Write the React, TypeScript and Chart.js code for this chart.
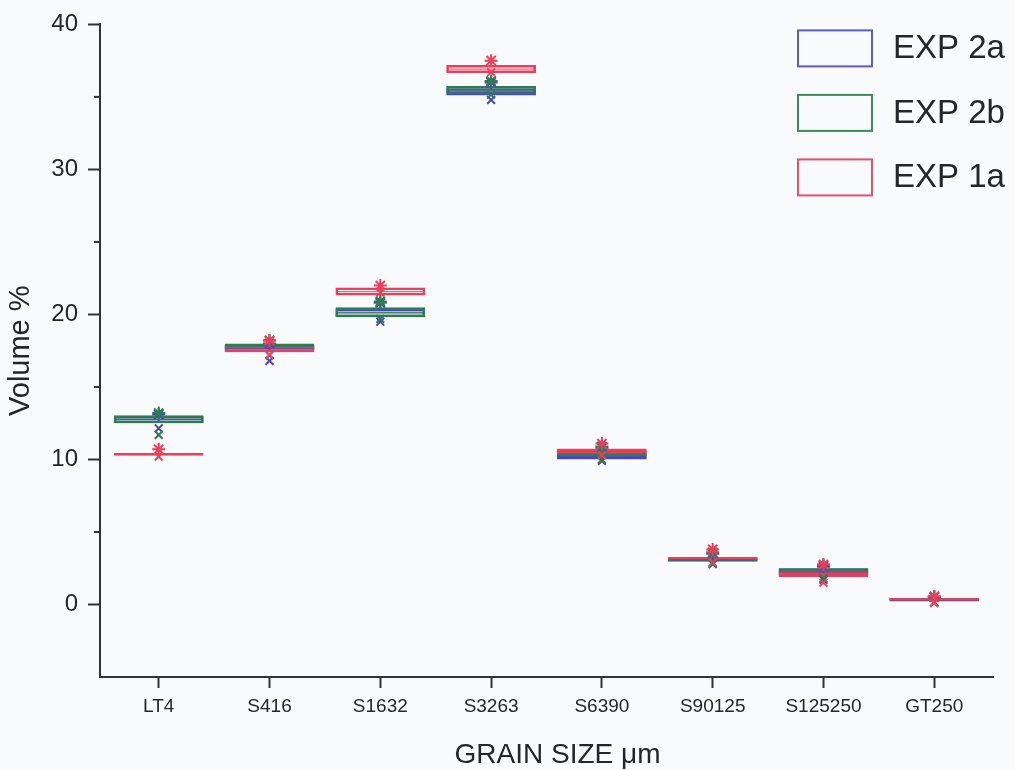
import React, { useEffect, useRef } from "react";
import { Chart, registerables } from "chart.js";

Chart.register(...registerables);

// Grain-size fractions along the x axis
const grainSizes = ["LT4", "S416", "S1632", "S3263", "S6390", "S90125", "S125250", "GT250"];
const yTickValues = [0, 10, 20, 30, 40];
const yMinorTickValues = [5, 15, 25, 35];

// EXP 2a: box bottom / top, median, upper and lower markers (volume %)
const exp2aLow = [12.5, 17.4, 19.8, 35.1, 10.0, 2.95, 2.0, 0.2];
const exp2aHigh = [13.0, 17.9, 20.4, 35.6, 10.4, 3.2, 2.5, 0.45];
const exp2aMedian = [12.75, 17.65, 20.1, 35.35, 10.2, 3.07, 2.25, 0.32];
const exp2aMax = [13.1, 18.0, 20.8, 36.0, 10.8, 3.5, 2.6, 0.5];
const exp2aMin = [12.15, 16.8, 19.5, 34.8, 9.9, 2.8, 1.7, 0.15];

// EXP 2b
const exp2bLow = [12.5, 17.6, 19.8, 35.2, 10.2, 3.0, 2.1, 0.25];
const exp2bHigh = [13.05, 18.0, 20.5, 35.75, 10.6, 3.25, 2.5, 0.45];
const exp2bMedian = [12.78, 17.8, 20.15, 35.48, 10.4, 3.12, 2.3, 0.35];
const exp2bMax = [13.2, 18.2, 20.9, 36.1, 10.9, 3.6, 2.7, 0.55];
const exp2bMin = [11.7, 17.2, 19.7, 35.15, 10.0, 2.8, 1.8, 0.15];

// EXP 1a
const exp1aLow = [10.25, 17.4, 21.3, 36.65, 10.4, 3.05, 1.9, 0.25];
const exp1aHigh = [10.45, 17.8, 21.85, 37.2, 10.75, 3.3, 2.25, 0.45];
const exp1aMedian = [10.35, 17.6, 21.57, 36.92, 10.58, 3.17, 2.07, 0.35];
const exp1aMax = [10.7, 18.2, 22.0, 37.5, 11.1, 3.8, 2.75, 0.55];
const exp1aMin = [10.2, 17.2, 21.5, 36.7, 10.3, 2.9, 1.5, 0.1];

const yTitle = "Volume %";
const xTitle = "GRAIN SIZE \u03bcm";

const FONT = "'Liberation Sans', Arial, sans-serif";
const AXIS_COLOR = "#333";
const TEXT_COLOR = "#262626";

const series = [
  { label: "EXP 2a", color: "#4848b8", legend: "#5d5dbb", low: exp2aLow, high: exp2aHigh, median: exp2aMedian, max: exp2aMax, min: exp2aMin, layer: 3 },
  { label: "EXP 2b", color: "#2f7d4c", legend: "#3f8a5c", low: exp2bLow, high: exp2bHigh, median: exp2bMedian, max: exp2bMax, min: exp2bMin, layer: 2 },
  { label: "EXP 1a", color: "#e8405c", legend: "#e8506a", low: exp1aLow, high: exp1aHigh, median: exp1aMedian, max: exp1aMax, min: exp1aMin, layer: 1 },
];

// Minor y ticks, x-axis title and the boxed legend
const decorPlugin = {
  id: "decor",
  afterDraw(chart: any) {
    const { ctx, chartArea } = chart;
    const yScale = chart.scales.y;
    ctx.save();
    ctx.strokeStyle = AXIS_COLOR;
    ctx.lineWidth = 2;
    for (const v of yMinorTickValues) {
      const py = yScale.getPixelForValue(v);
      ctx.beginPath();
      ctx.moveTo(chartArea.left - 6, py);
      ctx.lineTo(chartArea.left, py);
      ctx.stroke();
    }

    ctx.fillStyle = TEXT_COLOR;
    ctx.font = `28px ${FONT}`;
    ctx.textAlign = "center";
    ctx.textBaseline = "alphabetic";
    ctx.fillText(xTitle, (chartArea.left + chartArea.right) / 2 + 11, chart.height - 7);

    const boxX = chartArea.right - 195;
    series.forEach((s, i) => {
      const boxY = chartArea.top + 6 + i * 64.5;
      ctx.strokeStyle = s.legend;
      ctx.lineWidth = 2;
      ctx.strokeRect(boxX, boxY, 74, 36);
      ctx.fillStyle = TEXT_COLOR;
      ctx.font = `33px ${FONT}`;
      ctx.textAlign = "left";
      ctx.textBaseline = "middle";
      ctx.fillText(s.label, boxX + 95, boxY + 19);
    });
    ctx.restore();
  },
};

export default function App() {
  const canvasRef = useRef<HTMLCanvasElement | null>(null);

  useEffect(() => {
    if (!canvasRef.current) return;
    const datasets: any[] = [];
    series.forEach((s) => {
      datasets.push({
        type: "bar",
        label: s.label,
        data: grainSizes.map((_, i) => ({ x: i, y: [s.low[i], s.high[i]] })),
        backgroundColor: "rgba(255,255,255,0)",
        borderColor: s.color,
        borderWidth: 2.5,
        borderSkipped: false,
        grouped: false,
        categoryPercentage: 1,
        barPercentage: 0.81,
        order: s.layer + 6,
      });
      datasets.push({
        type: "scatter",
        label: s.label + " median",
        data: grainSizes.map((_, i) => ({ x: i, y: s.median[i] })),
        pointStyle: "line",
        pointRadius: 44,
        borderColor: s.color,
        borderWidth: 1,
        order: s.layer + 3,
      });
      datasets.push({
        type: "scatter",
        label: s.label + " max",
        data: grainSizes.map((_, i) => ({ x: i, y: s.max[i] })),
        pointStyle: "star",
        pointRadius: 6.5,
        borderColor: s.color,
        borderWidth: 2,
        order: s.layer,
      });
      datasets.push({
        type: "scatter",
        label: s.label + " min",
        data: grainSizes.map((_, i) => ({ x: i, y: s.min[i] })),
        pointStyle: "crossRot",
        pointRadius: 5.5,
        borderColor: s.color,
        borderWidth: 2,
        order: s.layer,
      });
    });

    const chart = new Chart(canvasRef.current, {
      type: "bar",
      data: { datasets },
      options: {
        animation: false,
        responsive: true,
        maintainAspectRatio: false,
        events: [],
        layout: { autoPadding: false, padding: { top: 22, right: 22, left: 0, bottom: 0 } },
        plugins: {
          legend: { display: false },
          tooltip: { enabled: false },
        },
        scales: {
          x: {
            type: "linear",
            min: -0.53,
            max: 7.53,
            offset: false,
            afterBuildTicks: (scale: any) => {
              scale.ticks = grainSizes.map((_, i) => ({ value: i }));
            },
            afterFit: (scale: any) => {
              scale.height = 93;
            },
            ticks: {
              callback: (v: any) => grainSizes[Math.round(Number(v))] ?? "",
              color: TEXT_COLOR,
              font: { family: FONT, size: 19 },
              padding: 7,
              maxRotation: 0,
              autoSkip: false,
            },
            grid: {
              offset: false,
              drawOnChartArea: false,
              tickLength: 11,
              tickWidth: 2,
              tickColor: AXIS_COLOR,
            },
            border: { display: true, color: AXIS_COLOR, width: 2 },
          },
          y: {
            type: "linear",
            min: -5,
            max: 40,
            afterBuildTicks: (scale: any) => {
              scale.ticks = yTickValues.map((v) => ({ value: v }));
            },
            afterFit: (scale: any) => {
              scale.width = 100;
            },
            ticks: {
              color: TEXT_COLOR,
              font: { family: FONT, size: 24 },
              padding: 10,
            },
            grid: {
              drawOnChartArea: false,
              tickLength: 12,
              tickWidth: 2,
              tickColor: AXIS_COLOR,
            },
            border: { display: true, color: AXIS_COLOR, width: 2 },
            title: {
              display: true,
              text: yTitle,
              color: TEXT_COLOR,
              font: { family: FONT, size: 29 },
              padding: { top: 4, bottom: 0 },
            },
          },
        },
      },
      plugins: [decorPlugin],
    } as any);

    return () => chart.destroy();
  }, []);

  return (
    <div style={{ position: "fixed", left: 0, top: 0, width: "100vw", height: "100vh", background: "#f9fafb" }}>
      <canvas ref={canvasRef} />
    </div>
  );
}
